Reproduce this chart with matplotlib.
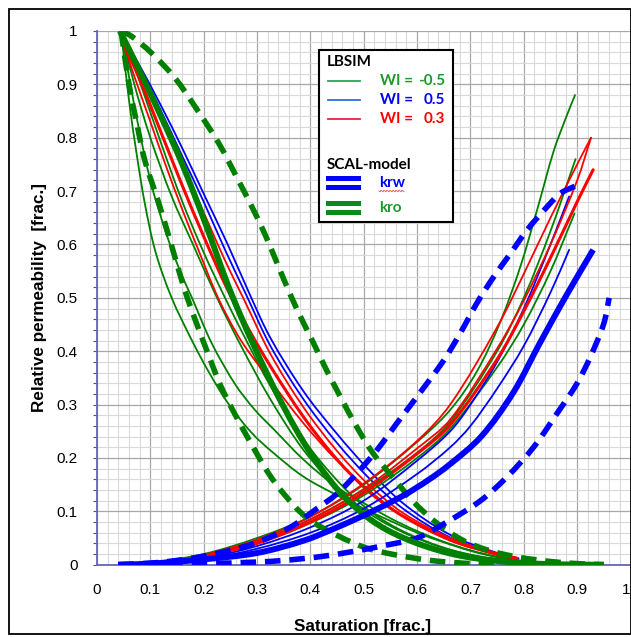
import numpy as np
import matplotlib
matplotlib.use("Agg")
import matplotlib.pyplot as plt
from matplotlib.ticker import MultipleLocator, FuncFormatter
from matplotlib.lines import Line2D
from matplotlib.patches import Rectangle, PathPatch
from matplotlib.path import Path
from matplotlib.transforms import Affine2D

W, H = 631, 637

# ---------------- SCAL model ----------------
scal_krw_base_sw = [0.04, 0.1, 0.2, 0.3, 0.387, 0.45, 0.512, 0.575, 0.62, 0.66, 0.72, 0.78, 0.83, 0.88, 0.93]
scal_krw_base = [0.0, 0.002, 0.01, 0.022, 0.045, 0.07, 0.098, 0.13, 0.158, 0.187, 0.24, 0.322, 0.415, 0.505, 0.59]

scal_krw_high_sw = [0.04, 0.1, 0.15, 0.2, 0.25, 0.3, 0.362, 0.412, 0.45, 0.487, 0.525, 0.562, 0.6, 0.65,
                    0.681, 0.712, 0.744, 0.775, 0.806, 0.844, 0.869, 0.9]
scal_krw_high = [0.0, 0.003, 0.008, 0.016, 0.027, 0.042, 0.07, 0.105, 0.133, 0.171, 0.215, 0.265, 0.315, 0.383,
                 0.434, 0.49, 0.54, 0.583, 0.627, 0.671, 0.696, 0.711]

scal_krw_low_sw = [0.04, 0.2, 0.3, 0.35, 0.418, 0.481, 0.544, 0.6, 0.656, 0.719, 0.769, 0.819, 0.862, 0.9,
                   0.925, 0.95, 0.96]
scal_krw_low = [0.0, 0.002, 0.005, 0.008, 0.015, 0.025, 0.037, 0.05, 0.08, 0.12, 0.165, 0.221, 0.283, 0.34,
                0.39, 0.452, 0.5]

scal_kro_base_sw = [0.043, 0.08, 0.12, 0.16, 0.2, 0.255, 0.325, 0.387, 0.45, 0.512, 0.575, 0.662, 0.75, 0.85, 0.95]
scal_kro_base = [1.0, 0.925, 0.84, 0.75, 0.648, 0.5, 0.345, 0.23, 0.142, 0.085, 0.05, 0.021, 0.007, 0.001, 0.0]

scal_kro_high_sw = [0.045, 0.065, 0.103, 0.146, 0.184, 0.228, 0.265, 0.303, 0.328, 0.35, 0.375, 0.406, 0.43,
                    0.456, 0.487, 0.518, 0.556, 0.593, 0.637, 0.687, 0.737, 0.79, 0.85, 0.9, 0.95]
scal_kro_high = [1.0, 0.99, 0.958, 0.912, 0.858, 0.79, 0.72, 0.645, 0.588, 0.535, 0.478, 0.415, 0.365,
                 0.315, 0.258, 0.208, 0.162, 0.118, 0.078, 0.045, 0.026, 0.014, 0.006, 0.002, 0.0]

scal_kro_low_sw = [0.045, 0.06, 0.075, 0.09, 0.115, 0.14, 0.159, 0.171, 0.19, 0.209, 0.231, 0.259, 0.29,
                   0.321, 0.35, 0.393, 0.45, 0.506, 0.562, 0.625, 0.7, 0.75]
scal_kro_low = [1.0, 0.9, 0.825, 0.756, 0.68, 0.597, 0.532, 0.495, 0.443, 0.393, 0.337, 0.281, 0.225,
                0.172, 0.133, 0.088, 0.055, 0.031, 0.018, 0.008, 0.002, 0.0]

# ---------------- LBSIM runs: oil relative permeability ----------------
kro_wi_m05_a_sw = [0.045, 0.06, 0.075, 0.09, 0.11, 0.14, 0.178, 0.209, 0.246, 0.29, 0.33, 0.387, 0.45, 0.5,
                   0.55, 0.6, 0.65, 0.7, 0.75, 0.8]
kro_wi_m05_a = [1.0, 0.87, 0.765, 0.675, 0.585, 0.5, 0.42, 0.362, 0.302, 0.247, 0.21, 0.165, 0.13, 0.105,
                0.082, 0.06, 0.042, 0.026, 0.014, 0.006]
kro_wi_m05_b_sw = [0.045, 0.07, 0.1, 0.13, 0.155, 0.178, 0.215, 0.259, 0.296, 0.33, 0.387, 0.45, 0.506, 0.55,
                   0.6, 0.65, 0.7, 0.75, 0.8]
kro_wi_m05_b = [1.0, 0.86, 0.72, 0.62, 0.552, 0.5, 0.415, 0.338, 0.29, 0.255, 0.197, 0.145, 0.112, 0.087,
                0.063, 0.043, 0.027, 0.015, 0.006]
kro_wi_m05_c_sw = [0.045, 0.07, 0.1, 0.14, 0.18, 0.225, 0.27, 0.325, 0.387, 0.45, 0.512, 0.575, 0.65, 0.72, 0.8]
kro_wi_m05_c = [1.0, 0.9, 0.8, 0.69, 0.6, 0.5, 0.41, 0.31, 0.215, 0.145, 0.095, 0.06, 0.031, 0.014, 0.005]
kro_wi_m05_d_sw = [0.045, 0.08, 0.12, 0.16, 0.2, 0.24, 0.28, 0.325, 0.387, 0.45, 0.512, 0.575, 0.65, 0.72, 0.8]
kro_wi_m05_d = [1.0, 0.905, 0.79, 0.68, 0.585, 0.5, 0.42, 0.335, 0.235, 0.158, 0.1, 0.062, 0.032, 0.015, 0.005]

kro_wi_05_a_sw = [0.043, 0.08, 0.12, 0.16, 0.2, 0.245, 0.287, 0.325, 0.387, 0.45, 0.512, 0.575, 0.662, 0.75, 0.79]
kro_wi_05_a = [1.0, 0.935, 0.86, 0.78, 0.695, 0.6, 0.505, 0.425, 0.325, 0.245, 0.175, 0.114, 0.056, 0.022, 0.012]
kro_wi_05_b_sw = [0.043, 0.08, 0.12, 0.16, 0.2, 0.24, 0.28, 0.325, 0.387, 0.45, 0.512, 0.575, 0.662, 0.75, 0.79]
kro_wi_05_b = [1.0, 0.93, 0.85, 0.765, 0.68, 0.59, 0.505, 0.41, 0.31, 0.228, 0.16, 0.104, 0.051, 0.02, 0.011]

kro_wi_03_a_sw = [0.05, 0.07, 0.1, 0.13, 0.16, 0.19, 0.227, 0.27, 0.325, 0.387, 0.45, 0.512, 0.575, 0.662, 0.75, 0.787]
kro_wi_03_a = [0.975, 0.915, 0.83, 0.745, 0.665, 0.59, 0.5, 0.42, 0.345, 0.265, 0.195, 0.138, 0.09, 0.045, 0.018, 0.01]
kro_wi_03_b_sw = [0.05, 0.08, 0.12, 0.16, 0.2, 0.24, 0.274, 0.325, 0.387, 0.45, 0.512, 0.575, 0.662, 0.75, 0.787]
kro_wi_03_b = [0.98, 0.925, 0.84, 0.75, 0.66, 0.57, 0.5, 0.395, 0.295, 0.213, 0.147, 0.096, 0.05, 0.021, 0.013]
kro_wi_03_c_sw = [0.05, 0.08, 0.12, 0.16, 0.2, 0.245, 0.285, 0.325, 0.387, 0.45, 0.512, 0.575, 0.662, 0.75, 0.787]
kro_wi_03_c = [0.975, 0.91, 0.81, 0.71, 0.615, 0.515, 0.44, 0.372, 0.277, 0.197, 0.135, 0.09, 0.047, 0.02, 0.012]

# ---------------- LBSIM runs: water relative permeability ----------------
krw_wi_m05_a_sw = [0.045, 0.1, 0.2, 0.3, 0.4, 0.5, 0.6, 0.662, 0.712, 0.756, 0.794, 0.825, 0.856, 0.878, 0.896]
krw_wi_m05_a = [0.0, 0.004, 0.02, 0.05, 0.09, 0.15, 0.23, 0.29, 0.362, 0.455, 0.56, 0.665, 0.775, 0.835, 0.88]
krw_wi_m05_b_sw = [0.045, 0.1, 0.2, 0.3, 0.4, 0.5, 0.6, 0.662, 0.75, 0.8, 0.85, 0.897]
krw_wi_m05_b = [0.0, 0.003, 0.017, 0.045, 0.085, 0.14, 0.21, 0.268, 0.4, 0.5, 0.625, 0.76]
krw_wi_m05_c_sw = [0.045, 0.1, 0.2, 0.3, 0.4, 0.5, 0.6, 0.662, 0.75, 0.8, 0.85, 0.895]
krw_wi_m05_c = [0.0, 0.003, 0.015, 0.04, 0.078, 0.13, 0.2, 0.255, 0.37, 0.45, 0.55, 0.658]

krw_wi_05_a_sw = [0.045, 0.1, 0.2, 0.3, 0.4, 0.5, 0.6, 0.662, 0.7, 0.75, 0.8, 0.85, 0.885]
krw_wi_05_a = [0.0, 0.002, 0.012, 0.035, 0.07, 0.12, 0.195, 0.25, 0.3, 0.38, 0.48, 0.6, 0.69]
krw_wi_05_b_sw = [0.045, 0.1, 0.2, 0.3, 0.4, 0.5, 0.6, 0.662, 0.7, 0.75, 0.8, 0.85, 0.885]
krw_wi_05_b = [0.0, 0.002, 0.01, 0.03, 0.06, 0.105, 0.17, 0.22, 0.26, 0.33, 0.41, 0.51, 0.59]

krw_wi_03_a_sw = [0.15, 0.2, 0.3, 0.4, 0.5, 0.6, 0.662, 0.75, 0.8, 0.85, 0.9, 0.926]
krw_wi_03_a = [0.008, 0.018, 0.047, 0.09, 0.152, 0.232, 0.3, 0.445, 0.545, 0.65, 0.75, 0.8]
krw_wi_03_b_sw = [0.15, 0.2, 0.3, 0.4, 0.5, 0.6, 0.662, 0.75, 0.8, 0.85, 0.9, 0.93]
krw_wi_03_b = [0.006, 0.015, 0.04, 0.08, 0.135, 0.208, 0.262, 0.385, 0.475, 0.575, 0.68, 0.74]
krw_wi_03_c_sw = [0.15, 0.2, 0.3, 0.4, 0.5, 0.6, 0.662, 0.75, 0.8, 0.85, 0.9, 0.926]
krw_wi_03_c = [0.007, 0.016, 0.043, 0.085, 0.142, 0.218, 0.272, 0.405, 0.495, 0.6, 0.72, 0.8]

x_ticks = [0, 0.1, 0.2, 0.3, 0.4, 0.5, 0.6, 0.7, 0.8, 0.9, 1]
y_ticks = [0, 0.1, 0.2, 0.3, 0.4, 0.5, 0.6, 0.7, 0.8, 0.9, 1]

GREEN = "#008000"
BLUE = "#0000ff"
RED = "#ff0000"
THIN = 1.3
DASH = (2.8, 1.6)

plt.rcParams["font.family"] = ["Liberation Sans", "DejaVu Sans"]


def smooth_path(x, y):
    """Cubic Bezier path passing through every given point (chord-length Catmull-Rom)."""
    p = np.column_stack([x, y]).astype(float)
    n = len(p)
    d = np.hypot(*np.diff(p, axis=0).T)
    d[d == 0] = 1e-9
    tang = np.zeros_like(p)
    tang[0] = (p[1] - p[0]) / d[0]
    tang[-1] = (p[-1] - p[-2]) / d[-1]
    for i in range(1, n - 1):
        tang[i] = (p[i + 1] - p[i - 1]) / (d[i - 1] + d[i])
    verts = [p[0]]
    codes = [Path.MOVETO]
    for i in range(n - 1):
        verts += [p[i] + tang[i] * d[i] / 3, p[i + 1] - tang[i + 1] * d[i] / 3, p[i + 1]]
        codes += [Path.CURVE4] * 3
    return Path(verts, codes)


def curve(ax, x, y, dashed=False, **kw):
    ls = (0, DASH) if dashed else "solid"
    ax.add_patch(PathPatch(smooth_path(x, y), fill=False, linestyle=ls, **kw))


fig = plt.figure(figsize=(W / 100, H / 100), dpi=100)
ax = fig.add_axes([97 / W, 1 - 564.7 / H, 533.5 / W, 533.7 / H])
ax.set_xlim(0, 1)
ax.set_ylim(0, 1)

ax.xaxis.set_major_locator(MultipleLocator(0.1))
ax.yaxis.set_major_locator(MultipleLocator(0.1))
ax.xaxis.set_minor_locator(MultipleLocator(0.02))
ax.yaxis.set_minor_locator(MultipleLocator(0.02))
ax.grid(which="minor", color="#d9d9d9", lw=0.8, zorder=0)
ax.grid(which="major", color="#a8a8a8", lw=0.9, zorder=0)
ax.set_axisbelow(True)

ax.set_xticks(x_ticks)
ax.set_yticks(y_ticks)
fmt = FuncFormatter(lambda v, p: f"{v:g}")
ax.xaxis.set_major_formatter(fmt)
ax.yaxis.set_major_formatter(fmt)
ax.tick_params(axis="x", which="both", length=0, pad=13, labelsize=11)
ax.tick_params(axis="y", which="major", length=3, width=0.8, color="#555555", pad=11, labelsize=11)
ax.tick_params(axis="y", which="minor", length=3, width=0.8, color="#555555")
ax.get_xticklabels()[-1].set_horizontalalignment("right")

for side in ("top", "right"):
    ax.spines[side].set_visible(False)
for side in ("left", "bottom"):
    ax.spines[side].set_color("#6666b8")
    ax.spines[side].set_linewidth(1.3)

# LBSIM curves
thin_sets = [
    (kro_wi_m05_a_sw, kro_wi_m05_a, GREEN, THIN),
    (kro_wi_m05_b_sw, kro_wi_m05_b, GREEN, THIN),
    (kro_wi_m05_c_sw, kro_wi_m05_c, GREEN, THIN),
    (kro_wi_m05_d_sw, kro_wi_m05_d, GREEN, THIN),
    (kro_wi_05_a_sw, kro_wi_05_a, BLUE, THIN),
    (kro_wi_05_b_sw, kro_wi_05_b, BLUE, THIN),
    (kro_wi_03_a_sw, kro_wi_03_a, RED, THIN),
    (kro_wi_03_b_sw, kro_wi_03_b, RED, THIN),
    (kro_wi_03_c_sw, kro_wi_03_c, RED, 2.2),
    (krw_wi_m05_a_sw, krw_wi_m05_a, GREEN, THIN),
    (krw_wi_m05_b_sw, krw_wi_m05_b, GREEN, THIN),
    (krw_wi_m05_c_sw, krw_wi_m05_c, GREEN, THIN),
    (krw_wi_05_a_sw, krw_wi_05_a, BLUE, THIN),
    (krw_wi_05_b_sw, krw_wi_05_b, BLUE, THIN),
    (krw_wi_03_a_sw, krw_wi_03_a, RED, THIN),
    (krw_wi_03_c_sw, krw_wi_03_c, RED, THIN),
    (krw_wi_03_b_sw, krw_wi_03_b, RED, 2.2),
]
for sw, kr, col, lw in thin_sets:
    curve(ax, sw, kr, ec=col, lw=lw, zorder=3, capstyle="round")

# SCAL model curves
curve(ax, scal_kro_high_sw, scal_kro_high, dashed=True, ec=GREEN, lw=4.0, zorder=4, capstyle="butt")
curve(ax, scal_kro_low_sw, scal_kro_low, dashed=True, ec=GREEN, lw=4.0, zorder=4, capstyle="butt")
curve(ax, scal_krw_high_sw, scal_krw_high, dashed=True, ec=BLUE, lw=4.0, zorder=4, capstyle="butt")
curve(ax, scal_krw_low_sw, scal_krw_low, dashed=True, ec=BLUE, lw=4.0, zorder=4, capstyle="butt")
curve(ax, scal_kro_base_sw, scal_kro_base, ec=GREEN, lw=4.3, zorder=5, capstyle="butt")
curve(ax, scal_krw_base_sw, scal_krw_base, ec=BLUE, lw=4.3, zorder=5, capstyle="butt")

# axis titles
fig.text(363 / W, 1 - 626 / H, "Saturation [frac.]", ha="center", va="center",
         fontsize=12.3, fontweight="bold")
fig.text(40 / W, 1 - 298 / H, "Relative permeability  [frac.]", ha="center", va="center",
         rotation=90, fontsize=12.3, fontweight="bold")

# pixel-space helper (origin top-left)
px = Affine2D().scale(1 / W, -1 / H).translate(0, 1) + fig.transFigure

# outer frame
fig.add_artist(Rectangle((9, 9), 621.5, 625, transform=px, fill=False, ec="black", lw=1.3))

# legend box
fig.add_artist(Rectangle((318.5, 50), 134.5, 172, transform=px, fc="white", ec="black", lw=1.5, zorder=10))
LFONT = ["Lato", "DejaVu Sans"]
LG = "#1f9a2a"
fig.text(327 / W, 1 - 62 / H, "LBSIM", ha="left", va="center",
         fontsize=11, fontweight="bold", family=LFONT, zorder=11)
rows = [(81, "#22a85a", LG, "-0.5"), (99.5, "#2b6fd6", BLUE, "0.5"), (119, "#f0203c", RED, "0.3")]
for y, lc, tc, val in rows:
    fig.add_artist(Line2D([328, 360], [y, y], transform=px, color=lc, lw=1.3, zorder=11))
    fig.text(380 / W, 1 - y / H, "WI =", ha="left", va="center", fontsize=11,
             fontweight="bold", color=tc, family=LFONT, zorder=11)
    fig.text(445 / W, 1 - y / H, val, ha="right", va="center", fontsize=11,
             fontweight="bold", color=tc, family=LFONT, zorder=11)
fig.text(327 / W, 1 - 165 / H, "SCAL-model", ha="left", va="center",
         fontsize=11, fontweight="bold", family=LFONT, zorder=11)
for y0, col, name in [(178, BLUE, "krw"), (203, "#0a8a1a", "kro")]:
    fig.add_artist(Line2D([328, 358], [y0, y0], transform=px, color=col, lw=3.6, zorder=11))
    fig.add_artist(Line2D([328, 341], [y0 + 9, y0 + 9], transform=px, color=col, lw=3.6, zorder=11))
    fig.add_artist(Line2D([345, 358], [y0 + 9, y0 + 9], transform=px, color=col, lw=3.6, zorder=11))
    fig.text(379 / W, 1 - (y0 + 5) / H, name, ha="left", va="center", fontsize=11,
             fontweight="bold", color=col if name == "krw" else LG, family=LFONT, zorder=11)
# spell-check squiggle under "krw"
wx = np.linspace(379, 404, 26)
wy = 191 + 0.9 * np.sin((wx - 379) * np.pi / 1.5)
fig.add_artist(Line2D(wx, wy, transform=px, color="#e05050", lw=0.6, zorder=11))

fig.savefig("out.png", dpi=100)
